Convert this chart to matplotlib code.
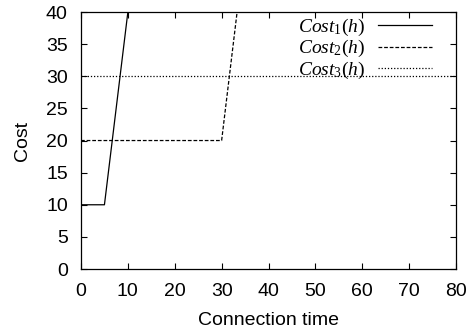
import matplotlib
matplotlib.use("Agg")
import matplotlib.pyplot as plt

plt.rcParams['font.family'] = ['Liberation Sans', 'DejaVu Sans']
plt.rcParams['mathtext.fontset'] = 'custom'
plt.rcParams['mathtext.rm'] = 'Liberation Serif'
plt.rcParams['mathtext.it'] = 'Liberation Serif:italic'

cost1_x = [0, 5, 10]
cost1_y = [10, 10, 40]
cost2_x = [0, 30, 33.3]
cost2_y = [20, 20, 40]
cost3_x = [0, 80]
cost3_y = [30, 30]
labels = [r'$Cost_1(h)$', r'$Cost_2(h)$', r'$Cost_3(h)$']
xticks = list(range(0, 81, 10))
yticks = list(range(0, 41, 5))

fig = plt.figure(figsize=(4.69, 3.35), dpi=100)
ax = fig.add_axes([0.1727, 0.197, 0.7996, 0.767])
ax.plot(cost1_x, cost1_y, color='black', lw=0.9, linestyle='-', label=labels[0])
ax.plot(cost2_x, cost2_y, color='black', lw=0.9, linestyle=(0, (3, 1.5)), label=labels[1])
ax.plot(cost3_x, cost3_y, color='black', lw=0.9, linestyle=(0, (1, 1.5)), label=labels[2])
ax.set_xlim(0, 80)
ax.set_ylim(0, 40)
ax.set_xticks(xticks)
ax.set_yticks(yticks)
ax.tick_params(direction='in', top=True, right=True, labelsize=14, length=4)
ax.tick_params(axis='x', pad=10)
ax.tick_params(axis='y', pad=9.5)
ax.set_xlabel('Connection time', fontsize=14, labelpad=9)
ax.set_ylabel('Cost', fontsize=14, labelpad=10.5)
for s in ax.spines.values():
    s.set_linewidth(0.9)
leg = ax.legend(loc='upper right', bbox_to_anchor=(0.936, 0.98), frameon=False,
                markerfirst=False, fontsize=14, borderpad=0, borderaxespad=0,
                handlelength=2.8, labelspacing=0.0, handletextpad=0.67)
fig.savefig('out.png', dpi=100)
